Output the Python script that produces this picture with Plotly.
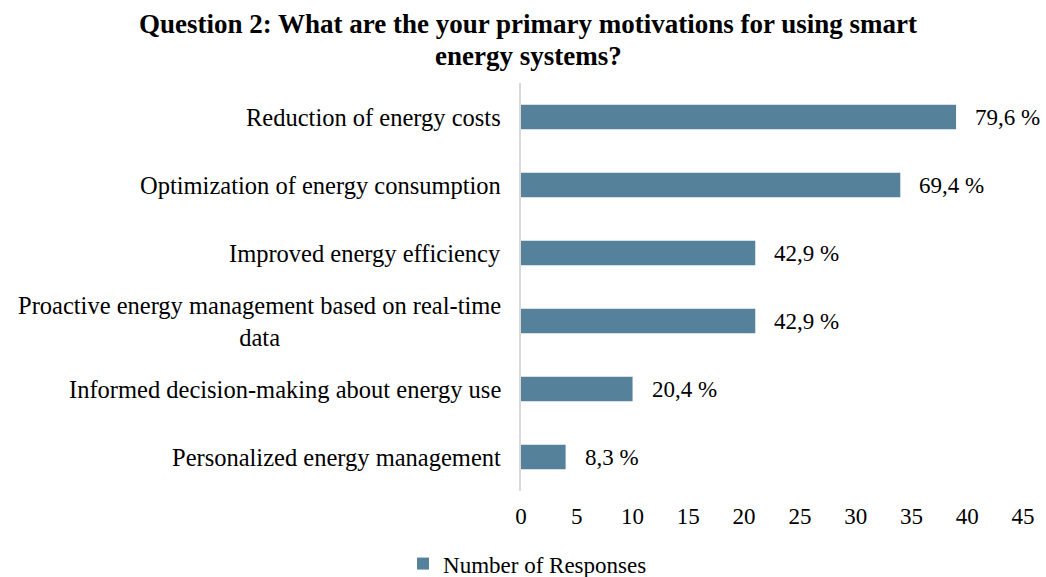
import plotly.graph_objects as go

# Survey answers, listed top to bottom
categories = [
    "Reduction of energy costs",
    "Optimization of energy consumption",
    "Improved energy efficiency",
    "Proactive energy management based on real-time<br>data",
    "Informed decision-making about energy use",
    "Personalized energy management",
]
responses = [39, 34, 21, 21, 10, 4]
percent_labels = ["79,6 %", "69,4 %", "42,9 %", "42,9 %", "20,4 %", "8,3 %"]
x_ticks = [0, 5, 10, 15, 20, 25, 30, 35, 40, 45]
title_lines = [
    "Question 2: What are the your primary motivations for using smart",
    "energy systems?",
]

SERIF = "Liberation Serif, Times New Roman, serif"
BAR_COLOR = "#56819B"
FONT_SIZE = 24

W, H = 1046, 577
M_L, M_R, M_T, M_B = 521, 23, 83, 86
PLOT_W = W - M_L - M_R
PLOT_H = H - M_T - M_B

fig = go.Figure()
fig.add_trace(go.Bar(
    y=categories,
    x=responses,
    orientation="h",
    name="Number of Responses",
    marker=dict(color=BAR_COLOR, line=dict(width=0)),
    width=0.36,
))

# Category labels as centred multi-line text to the left of the axis
for cat in categories:
    fig.add_annotation(
        x=0, xref="paper", y=cat, yref="y",
        text=cat, showarrow=False,
        xanchor="right", yanchor="middle", align="center",
        xshift=-18,
        font=dict(family=SERIF, size=FONT_SIZE + 0.5, color="#000000"),
    )

# Percentage labels just past the end of each bar
for cat, val, lab in zip(categories, responses, percent_labels):
    fig.add_annotation(
        x=val, xref="x", y=cat, yref="y",
        text=lab, showarrow=False,
        xanchor="left", yanchor="middle",
        xshift=17,
        font=dict(family=SERIF, size=FONT_SIZE - 1, color="#000000"),
    )

# Bold two-line heading, centred on the page
title_centre_x = (528 - M_L) / PLOT_W
for i, line in enumerate(title_lines):
    y_px = 24 + 32 * i
    fig.add_annotation(
        x=title_centre_x, xref="paper",
        y=(H - M_B - y_px) / PLOT_H, yref="paper",
        text=f"<b>{line}</b>", showarrow=False,
        xanchor="center", yanchor="middle",
        font=dict(family=SERIF, size=27, color="#000000"),
    )

fig.update_layout(
    width=W, height=H,
    margin=dict(l=M_L, r=M_R, t=M_T, b=M_B, autoexpand=False),
    paper_bgcolor="white", plot_bgcolor="white",
    showlegend=True,
    legend=dict(
        orientation="h",
        x=-0.235, xanchor="left",
        y=-0.178, yanchor="middle",
        font=dict(family=SERIF, size=FONT_SIZE - 1, color="#000000"),
        itemwidth=30,
    ),
    bargap=0.64,
)

fig.update_xaxes(
    range=[0, 45],
    tickvals=x_ticks,
    showgrid=False, zeroline=False, showline=False,
    ticks="",
    ticklabelstandoff=9,
    tickfont=dict(family=SERIF, size=FONT_SIZE - 1, color="#000000"),
)
fig.update_yaxes(
    categoryorder="array",
    categoryarray=categories[::-1],
    showticklabels=False,
    showgrid=False, zeroline=False,
    showline=True, linecolor="#D9D9D9", linewidth=1.5,
    ticks="",
)

fig.write_html("out.html")
